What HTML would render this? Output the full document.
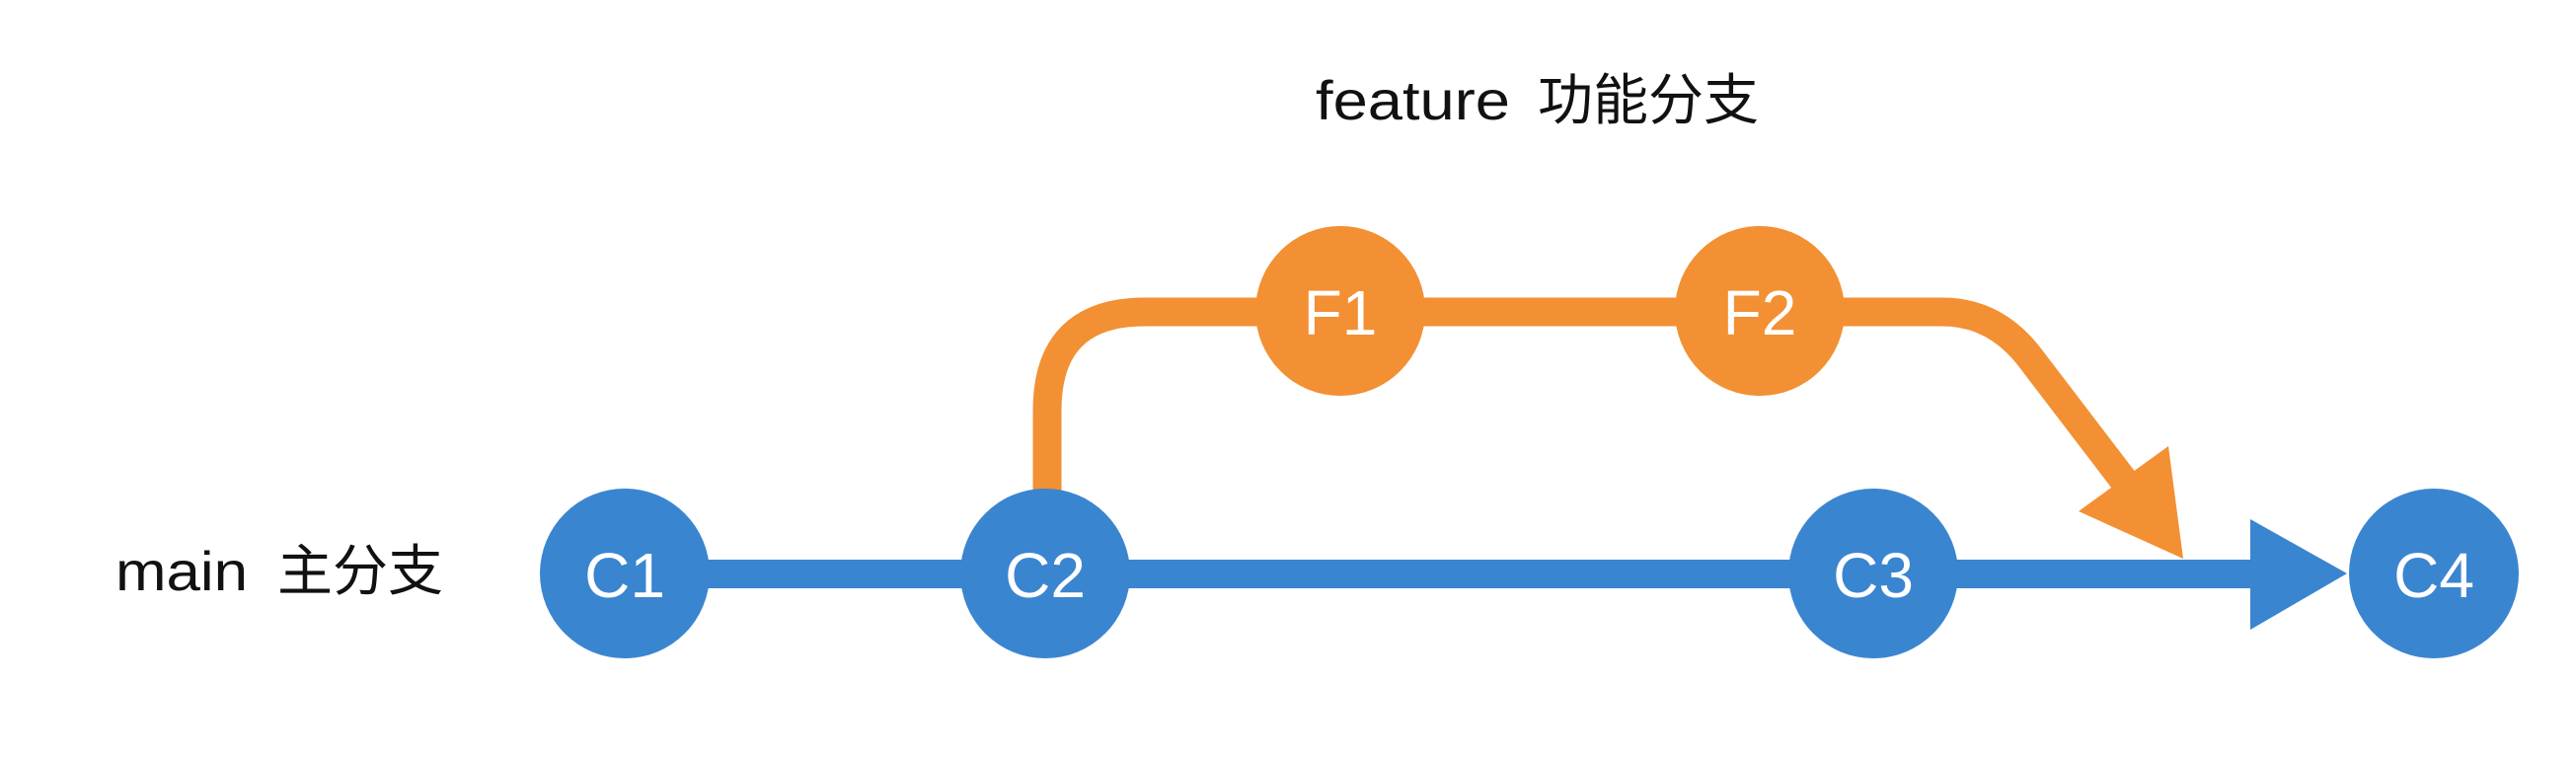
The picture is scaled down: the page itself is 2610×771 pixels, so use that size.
<!DOCTYPE html>
<html><head><meta charset="utf-8"><style>
html,body{margin:0;padding:0;background:#fff;}
svg{display:block}
</style></head><body>
<svg width="2610" height="771" viewBox="0 0 2610 771" xmlns="http://www.w3.org/2000/svg">
<rect width="2610" height="771" fill="#fff"/>
<!-- main line -->
<rect x="633" y="567" width="1650" height="29" fill="#3a85d0"/>
<polygon points="2280,526 2378,581 2280,638" fill="#3a85d0"/>
<!-- feature branch -->
<path d="M1061,500 L1061,416 Q1061,316 1160,316 L1968,316 Q2020,316 2055,360 L2152,487" fill="none" stroke="#f39033" stroke-width="29"/>
<polygon points="2197,452 2212,566 2106,518" fill="#f39033"/>
<!-- nodes -->
<g fill="#3a85d0">
<circle cx="633" cy="581" r="86"/>
<circle cx="1059" cy="581" r="86"/>
<circle cx="1898" cy="581" r="86"/>
<circle cx="2466" cy="581" r="86"/>
</g>
<g fill="#f39033">
<circle cx="1358" cy="315" r="86"/>
<circle cx="1783" cy="315" r="86"/>
</g>
<g font-family="Liberation Sans, Noto Sans CJK SC, sans-serif" font-size="64" fill="#fff" text-anchor="middle">
<text x="633" y="605">C1</text>
<text x="1059" y="605">C2</text>
<text x="1898" y="605">C3</text>
<text x="2466" y="605">C4</text>
<text x="1358" y="339">F1</text>
<text x="1783" y="339">F2</text>
</g>
<g font-family="Liberation Sans, Noto Sans CJK SC, sans-serif" font-size="56" fill="#111">
<text x="1333" y="121" textLength="197" lengthAdjust="spacingAndGlyphs">feature</text>
<text x="1558" y="121" font-family="Noto Sans CJK SC, sans-serif" textLength="224" lengthAdjust="spacingAndGlyphs">功能分支</text>
<text x="117" y="598" textLength="134" lengthAdjust="spacingAndGlyphs">main</text>
<text x="281" y="598" font-family="Noto Sans CJK SC, sans-serif" textLength="168" lengthAdjust="spacingAndGlyphs">主分支</text>
</g>
</svg>
</body></html>
